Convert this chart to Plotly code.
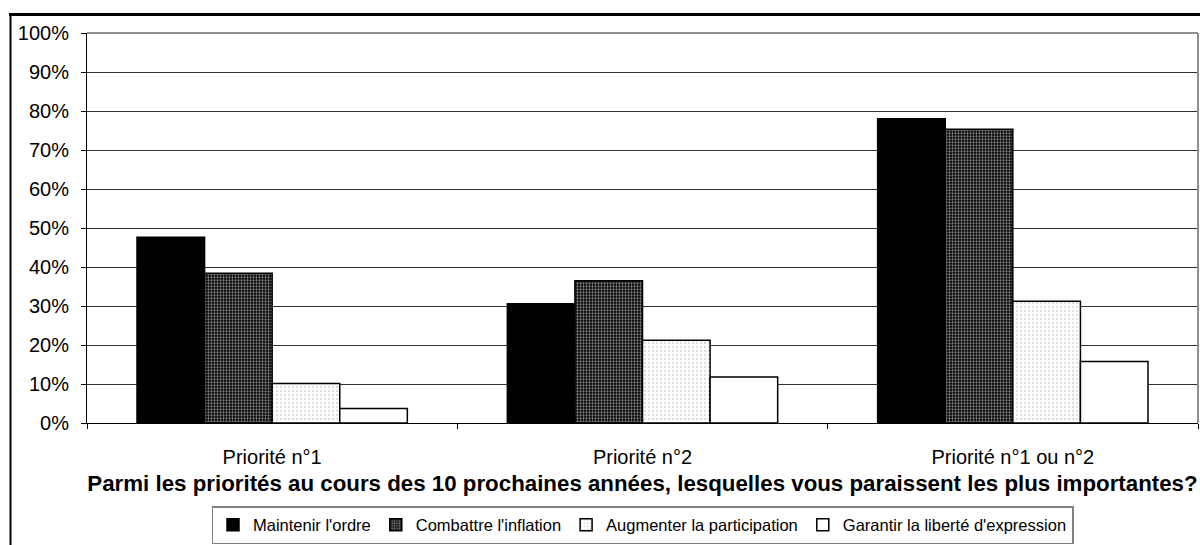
import plotly.graph_objects as go

categories = ["Priorité n°1", "Priorité n°2", "Priorité n°1 ou n°2"]
series_names = [
    "Maintenir l'ordre",
    "Combattre l'inflation",
    "Augmenter la participation",
    "Garantir la liberté d'expression",
]
maintenir = [47.6, 30.6, 78.0]
combattre = [38.4, 36.5, 75.3]
augmenter = [10.1, 21.2, 31.2]
garantir = [3.7, 11.8, 15.8]
y_ticks = list(range(0, 101, 10))
y_labels = [f"{v}%" for v in y_ticks]

x_title = "Parmi les priorités au cours des 10 prochaines années, lesquelles vous paraissent les plus importantes?"

FONT = "Liberation Sans, Arial, sans-serif"

styles = [
    dict(color="black", pattern=None),
    dict(color="black", pattern=dict(shape=".", fgcolor="white", bgcolor="black", size=3, solidity=0.45)),
    dict(color="white", pattern=dict(shape=".", fgcolor="#b8b8b8", bgcolor="white", size=4, solidity=0.25)),
    dict(color="white", pattern=None),
]

fig = go.Figure()
for name, values, st in zip(series_names, [maintenir, combattre, augmenter, garantir], styles):
    marker = dict(color=st["color"], line=dict(color="black", width=1.5))
    if st["pattern"]:
        marker["pattern"] = st["pattern"]
    fig.add_trace(go.Bar(x=categories, y=values, name=name, marker=marker))

# plot area pixel box: x 87..1198, y 33..423
X0, X1, Y0, Y1 = 87, 1198, 33, 423


def px_x(p):
    return (p - X0) / (X1 - X0)


def px_y(p):
    return (Y1 - p) / (Y1 - Y0)


fig.update_layout(
    width=1200,
    height=545,
    margin=dict(l=X0, r=1200 - X1, t=Y0, b=545 - Y1, autoexpand=False),
    paper_bgcolor="white",
    plot_bgcolor="white",
    barmode="group",
    bargap=0.27,
    bargroupgap=0,
    font=dict(family=FONT, size=20, color="black"),
    showlegend=True,
    legend=dict(
        orientation="h",
        x=0.5,
        xanchor="center",
        y=px_y(506),
        yanchor="top",
        bordercolor="#808080",
        borderwidth=1.5,
        font=dict(family=FONT, size=16.5),
        itemwidth=30,
        tracegroupgap=0,
    ),
    xaxis=dict(
        type="category",
        showline=True,
        linecolor="black",
        linewidth=1,
        ticks="outside",
        tickson="boundaries",
        ticklen=5,
        tickcolor="black",
        ticklabelstandoff=16,
        tickfont=dict(size=20),
        title=dict(text="<b>" + x_title + "</b>", font=dict(size=22.3), standoff=8),
    ),
    yaxis=dict(
        range=[0, 100],
        tickvals=y_ticks,
        ticktext=y_labels,
        showline=True,
        linecolor="black",
        linewidth=1,
        ticks="outside",
        ticklen=5,
        tickcolor="black",
        ticklabelstandoff=8,
        showgrid=True,
        gridcolor="#333333",
        gridwidth=1,
        zeroline=False,
        tickfont=dict(size=20),
    ),
    shapes=[
        # plot area border (top and right)
        dict(type="line", xref="paper", yref="paper", x0=0, x1=1, y0=1, y1=1,
             line=dict(color="#909090", width=2)),
        dict(type="line", xref="paper", yref="paper", x0=1, x1=1, y0=0, y1=1,
             line=dict(color="#909090", width=2)),
        # outer frame lines
        dict(type="line", xref="paper", yref="paper", x0=px_x(9), x1=px_x(1200), y0=px_y(14.5), y1=px_y(14.5),
             line=dict(color="black", width=3)),
        dict(type="line", xref="paper", yref="paper", x0=px_x(10.5), x1=px_x(10.5), y0=px_y(14), y1=px_y(545),
             line=dict(color="black", width=2)),
    ],
)

fig.write_html(
    "out.html",
    config={"displayModeBar": False},
    post_script="document.body.style.margin='0';",
)
